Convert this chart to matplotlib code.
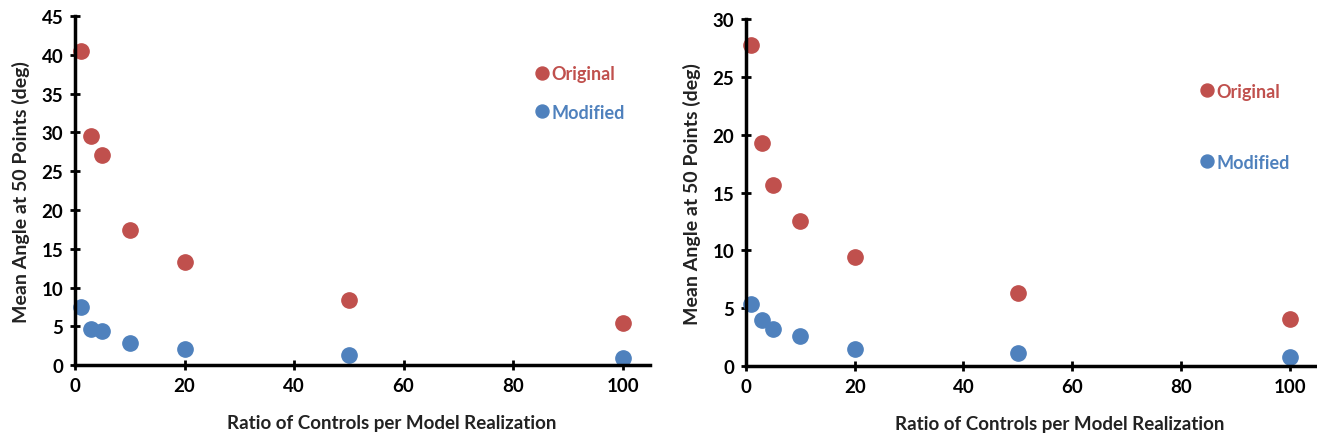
import matplotlib.pyplot as plt

ratio = [1, 3, 5, 10, 20, 50, 100]

# left panel
orig_a = [40.5, 29.6, 27.1, 17.4, 13.3, 8.4, 5.4]
mod_a = [7.5, 4.7, 4.4, 2.9, 2.1, 1.3, 0.9]
# right panel
orig_b = [27.8, 19.3, 15.7, 12.5, 9.4, 6.3, 4.1]
mod_b = [5.4, 4.0, 3.2, 2.6, 1.5, 1.1, 0.8]

red = '#C0504D'
blue = '#4F81BD'

plt.rcParams['font.family'] = ['Lato', 'DejaVu Sans']
plt.rcParams['font.weight'] = 'bold'

fig = plt.figure(figsize=(13.17, 4.39), dpi=100)
ax1 = fig.add_axes([0.057, 0.166, 0.4365, 0.795])
ax2 = fig.add_axes([0.5664, 0.164, 0.4336, 0.79])


def draw(ax, orig, mod, ymax, leg_anchor, spacing):
    ax.plot(ratio, orig, 'o', color=red, ms=11, label='Original', clip_on=False)
    ax.plot(ratio, mod, 'o', color=blue, ms=11, label='Modified', clip_on=False)
    ax.set_xlim(0, 105)
    ax.set_ylim(0, ymax)
    ax.set_xticks(range(0, 101, 20))
    ax.set_yticks(range(0, ymax + 1, 5))
    for s in ['top', 'right']:
        ax.spines[s].set_visible(False)
    for s in ['left', 'bottom']:
        ax.spines[s].set_linewidth(2.5)
    ax.tick_params(direction='inout', length=7, width=2, labelsize=13.5, pad=5)
    ax.set_xlabel('Ratio of Controls per Model Realization', fontsize=13.5,
                  fontweight='bold', color='#222222', va='center')
    ax.xaxis.set_label_coords(0.55, -0.165)
    ax.set_ylabel('Mean Angle at 50 Points (deg)', fontsize=14,
                  fontweight='bold', labelpad=8, color='#222222')
    leg = ax.legend(loc='center left', bbox_to_anchor=leg_anchor, frameon=False,
                    handletextpad=0.05, handlelength=0.9, labelspacing=spacing,
                    prop={'size': 13, 'weight': 'bold'}, labelcolor='linecolor',
                    markerscale=0.85)
    return leg


draw(ax1, orig_a, mod_a, 45, (0.77, 0.78), 1.2)
draw(ax2, orig_b, mod_b, 30, (0.765, 0.69), 3.0)

fig.savefig('out.png', dpi=100)
